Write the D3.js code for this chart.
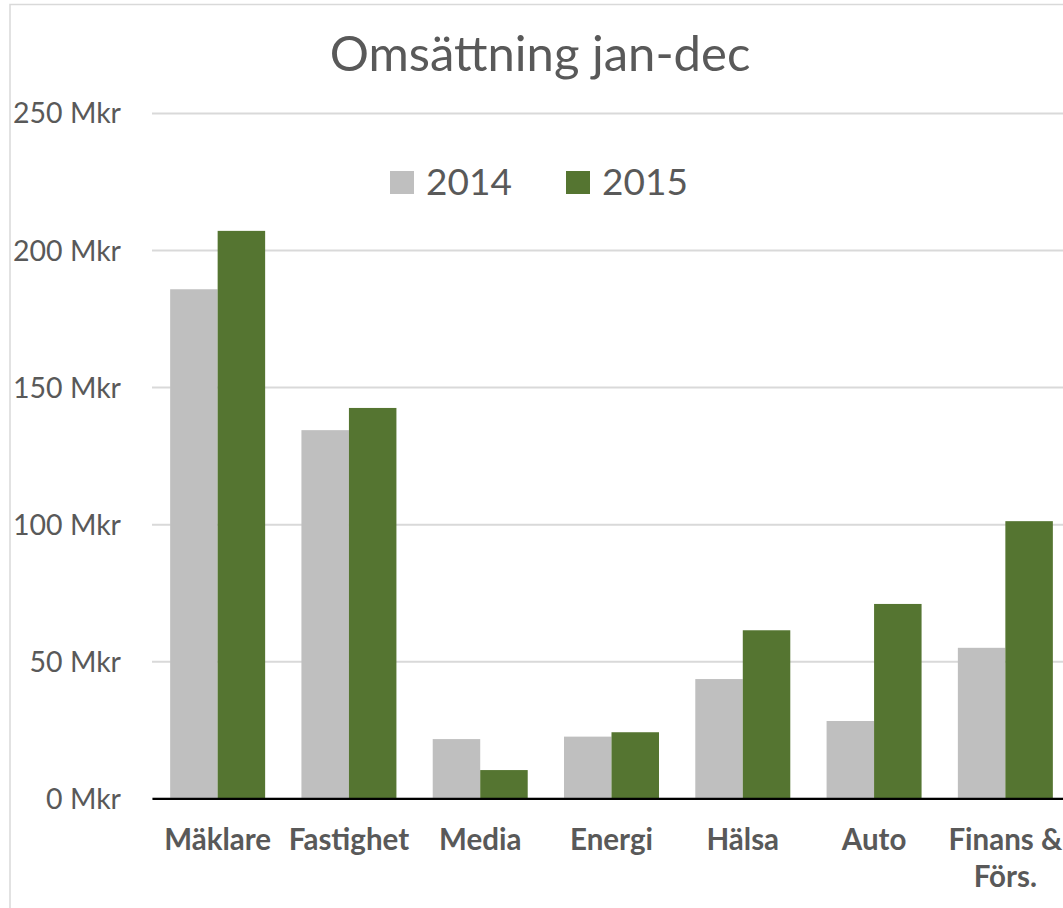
<!DOCTYPE html>
<html><head><meta charset="utf-8">
<script src="https://cdn.jsdelivr.net/npm/d3@7"></script>
<style>
html,body{margin:0;padding:0;background:#fff;}
svg{display:block;font-family:Lato, "Open Sans", sans-serif;}
</style></head>
<body>
<script>
const title = "Omsättning jan-dec";
const categories = ["Mäklare","Fastighet","Media","Energi","Hälsa","Auto","Finans & Förs."];
const categoryLines = [["Mäklare"],["Fastighet"],["Media"],["Energi"],["Hälsa"],["Auto"],["Finans &","Förs."]];
const seriesNames = ["2014","2015"];
const values2014 = [185.7,134.3,21.6,22.5,43.5,28.2,54.9];
const values2015 = [207.0,142.4,10.3,24.1,61.3,70.9,101.1];
const yTicks = [0,50,100,150,200,250];
const yTickLabels = ["0 Mkr","50 Mkr","100 Mkr","150 Mkr","200 Mkr","250 Mkr"];
const colors = ["#BFBFBF","#557531"];

const W=1063,H=908;
const FONT='Lato, "Open Sans", sans-serif';
const svg=d3.select("body").append("svg").attr("width",W).attr("height",H);

// outer frame (partially cropped)
svg.append("rect").attr("x",10).attr("y",4.5).attr("width",W+20).attr("height",H+20)
  .attr("fill","none").attr("stroke","#D9D9D9").attr("stroke-width",1.5);

const y=d3.scaleLinear().domain([0,250]).range([798.3,113]);
const x0=d3.scaleBand().domain(categories).range([152,1071]).padding(0);
const x1=d3.scaleBand().domain(seriesNames).range([0,x0.bandwidth()]).paddingInner(0).paddingOuter(0.382);

// gridlines
const yAxis=d3.axisLeft(y).tickValues(yTicks).tickSize(-(1071-152)).tickFormat((d,i)=>yTickLabels[i]);
const gy=svg.append("g").attr("transform","translate(152,0)").call(yAxis)
  .attr("font-family",FONT);
gy.select(".domain").remove();
gy.selectAll(".tick line").attr("stroke","#D9D9D9").attr("stroke-width",2);
gy.selectAll(".tick text").attr("x",-31).attr("dy","0.35em").attr("fill","#595959")
  .attr("font-size","28.5px").attr("text-anchor","end");

// bars
const data=categories.map((c,i)=>({c,vals:[values2014[i],values2015[i]]}));
const groups=svg.append("g").selectAll("g").data(data).join("g")
  .attr("transform",d=>`translate(${x0(d.c)},0)`);
groups.selectAll("rect").data(d=>d.vals.map((v,j)=>({s:seriesNames[j],v,j}))).join("rect")
  .attr("x",d=>x1(d.s)).attr("width",x1.bandwidth())
  .attr("y",d=>y(d.v)).attr("height",d=>y(0)-y(d.v))
  .attr("fill",d=>colors[d.j]);

// x axis
const xAxis=d3.axisBottom(x0).tickSize(0).tickFormat("");
const gx=svg.append("g").attr("transform",`translate(0,${y(0)})`).call(xAxis);
gx.select(".domain").attr("stroke","#000").attr("stroke-width",2.2);
categories.forEach((c,i)=>{
  const t=svg.append("text").attr("x",x0(c)+x0.bandwidth()/2).attr("y",850)
    .attr("text-anchor","middle").attr("font-weight","bold").attr("font-size","29.5px").attr("fill","#595959");
  categoryLines[i].forEach((ln,k)=>{
    t.append("tspan").attr("x",x0(c)+x0.bandwidth()/2).attr("dy",k===0?0:37).text(ln);
  });
});

// title
svg.append("text").attr("x",540).attr("y",71).attr("text-anchor","middle")
  .attr("font-size","49px").attr("fill","#595959").text(title);

// legend
const legendX=[390,566];
seriesNames.forEach((s,i)=>{
  svg.append("rect").attr("x",legendX[i]).attr("y",171).attr("width",24).attr("height",23).attr("fill",colors[i]);
  svg.append("text").attr("x",legendX[i]+36).attr("y",195).attr("font-size","37px").attr("fill","#595959").text(s);
});
</script>
</body></html>
